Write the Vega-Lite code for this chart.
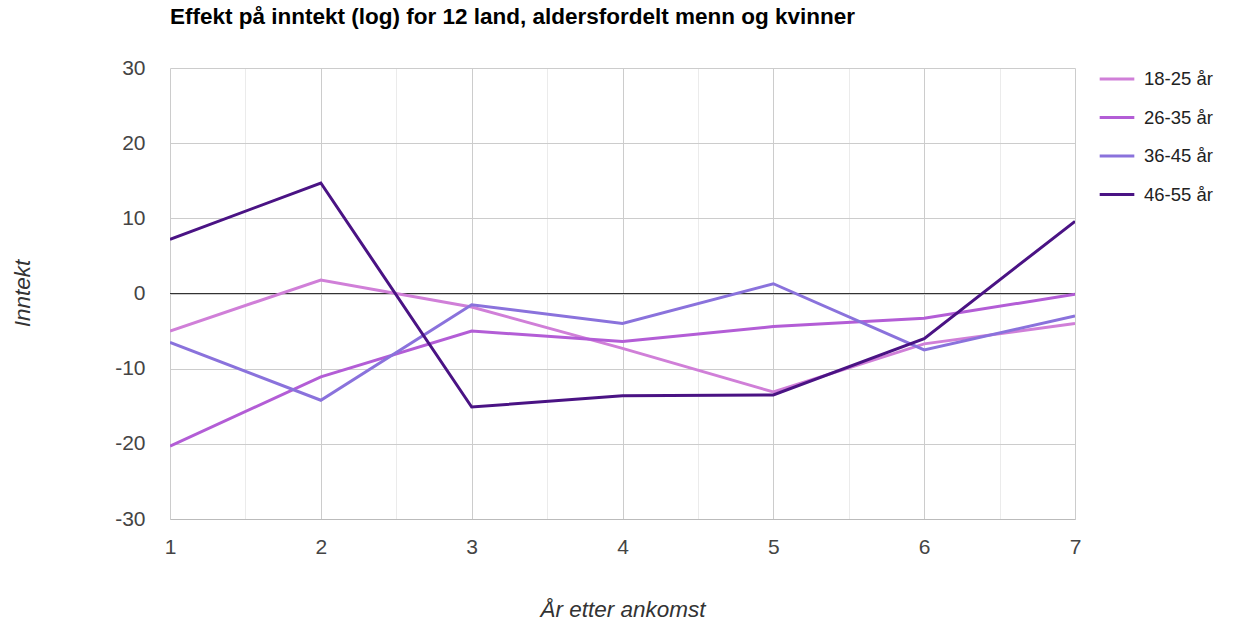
{
  "$schema": "https://vega.github.io/schema/vega-lite/v6.json",
  "autosize": "none",
  "width": 905,
  "height": 451,
  "padding": {"left": 170, "top": 68, "right": 176, "bottom": 104},
  "background": "white",
  "config": {"font": "Liberation Sans", "view": {"stroke": null}},
  "title": {"text": "Effekt på inntekt (log) for 12 land, aldersfordelt menn og kvinner", "anchor": "start", "frame": "group", "font": "Liberation Sans", "fontSize": 22.5, "fontWeight": "bold", "color": "#000", "offset": 29},
  "data": {"values": [
    {"ar": 1, "gruppe": "18-25 år", "v": -5.0},
    {"ar": 2, "gruppe": "18-25 år", "v": 1.8},
    {"ar": 3, "gruppe": "18-25 år", "v": -1.8},
    {"ar": 4, "gruppe": "18-25 år", "v": -7.3},
    {"ar": 5, "gruppe": "18-25 år", "v": -13.1},
    {"ar": 6, "gruppe": "18-25 år", "v": -6.7},
    {"ar": 7, "gruppe": "18-25 år", "v": -4.0},
    {"ar": 1, "gruppe": "26-35 år", "v": -20.3},
    {"ar": 2, "gruppe": "26-35 år", "v": -11.1},
    {"ar": 3, "gruppe": "26-35 år", "v": -5.0},
    {"ar": 4, "gruppe": "26-35 år", "v": -6.4},
    {"ar": 5, "gruppe": "26-35 år", "v": -4.4},
    {"ar": 6, "gruppe": "26-35 år", "v": -3.3},
    {"ar": 7, "gruppe": "26-35 år", "v": -0.1},
    {"ar": 1, "gruppe": "36-45 år", "v": -6.5},
    {"ar": 2, "gruppe": "36-45 år", "v": -14.2},
    {"ar": 3, "gruppe": "36-45 år", "v": -1.5},
    {"ar": 4, "gruppe": "36-45 år", "v": -4.0},
    {"ar": 5, "gruppe": "36-45 år", "v": 1.3},
    {"ar": 6, "gruppe": "36-45 år", "v": -7.5},
    {"ar": 7, "gruppe": "36-45 år", "v": -3.0},
    {"ar": 1, "gruppe": "46-55 år", "v": 7.2},
    {"ar": 2, "gruppe": "46-55 år", "v": 14.7},
    {"ar": 3, "gruppe": "46-55 år", "v": -15.1},
    {"ar": 4, "gruppe": "46-55 år", "v": -13.6},
    {"ar": 5, "gruppe": "46-55 år", "v": -13.5},
    {"ar": 6, "gruppe": "46-55 år", "v": -6.0},
    {"ar": 7, "gruppe": "46-55 år", "v": 9.6}
  ]},
  "layer": [
    {
      "mark": {"type": "rule", "color": "#333", "strokeWidth": 1},
      "data": {"values": [{"z": 0}]},
      "encoding": {"y": {"field": "z", "type": "quantitative", "scale": {"domain": [-30, 30]}}}
    },
    {
      "mark": {"type": "line", "strokeWidth": 3, "clip": true},
      "encoding": {
        "x": {"field": "ar", "type": "quantitative", "scale": {"domain": [1, 7], "nice": false, "zero": false},
          "axis": {"values": [1, 1.5, 2, 2.5, 3, 3.5, 4, 4.5, 5, 5.5, 6, 6.5, 7], "labelExpr": "datum.value % 1 === 0 ? '' + datum.value : ''", "labelFlush": false, "labelAlign": "center", "ticks": false, "labelPadding": 17, "labelFontSize": 21, "labelColor": "#444", "domainColor": "#bbb", "gridColor": {"condition": {"test": "datum.value % 1 === 0", "value": "#ccc"}, "value": "#ebebeb"}, "title": "År etter ankomst", "titleFontStyle": "italic", "titleFontWeight": "normal", "titleFontSize": 22.5, "titleColor": "#333", "titleY": 90, "titleBaseline": "middle"}},
        "y": {"field": "v", "type": "quantitative", "scale": {"domain": [-30, 30], "nice": false},
          "axis": {"values": [-30, -25, -20, -15, -10, -5, 0, 5, 10, 15, 20, 25, 30], "labelExpr": "datum.value % 10 === 0 ? '' + datum.value : ''", "labelFlush": false, "ticks": false, "domain": false, "labelPadding": 25, "labelFontSize": 21, "labelColor": "#444", "gridColor": {"condition": {"test": "datum.value % 10 === 0", "value": "#ccc"}, "value": "#ebebeb"}, "title": "Inntekt", "titleFontStyle": "italic", "titleFontWeight": "normal", "titleFontSize": 22.5, "titleColor": "#333", "titleX": -148, "titleY": 225, "titleBaseline": "middle"}},
        "color": {"field": "gruppe", "type": "nominal",
          "scale": {"domain": ["18-25 år", "26-35 år", "36-45 år", "46-55 år"], "range": ["#d07fd8", "#b35dd6", "#8a72dc", "#4a1384"]},
          "legend": {"title": null, "orient": "none", "legendX": 928, "legendY": -8, "symbolType": "stroke", "symbolSize": 1200, "symbolStrokeWidth": 3, "labelFontSize": 18.5, "labelColor": "#222", "rowPadding": 9.5, "labelOffset": 8}}
      }
    }
  ]
}
